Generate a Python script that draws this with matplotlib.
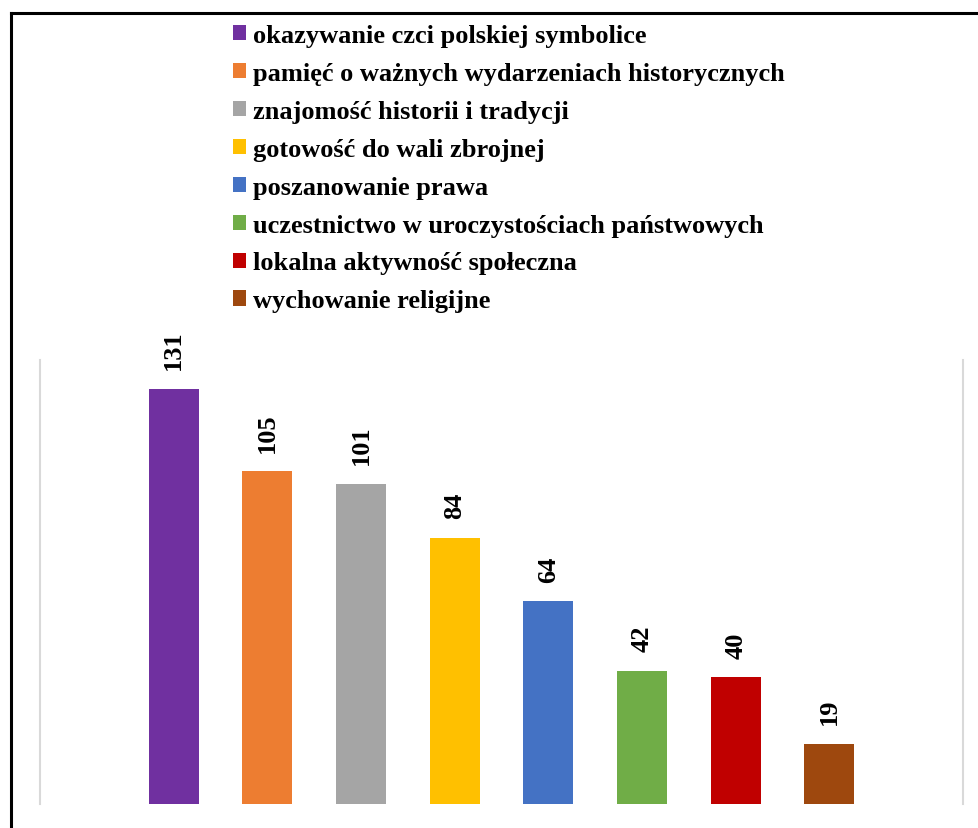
import matplotlib.pyplot as plt
from matplotlib.lines import Line2D

categories = [
    "okazywanie czci polskiej symbolice",
    "pamięć o ważnych wydarzeniach historycznych",
    "znajomość historii i tradycji",
    "gotowość do wali zbrojnej",
    "poszanowanie prawa",
    "uczestnictwo w uroczystościach państwowych",
    "lokalna aktywność społeczna",
    "wychowanie religijne",
]
values = [131, 105, 101, 84, 64, 42, 40, 19]
colors = ["#7030A0", "#ED7D31", "#A5A5A5", "#FFC000",
          "#4472C4", "#70AD47", "#C00000", "#9E480E"]

plt.rcParams['font.family'] = ['Liberation Serif', 'DejaVu Serif']

W, H = 979, 829
fig = plt.figure(figsize=(W / 100, H / 100), dpi=100)
ax = fig.add_axes([40 / W, (H - 805) / H, (963 - 40) / W, (805 - 361) / H])

x = range(len(values))
bars = ax.bar(x, values, width=0.534, color=colors, label=categories)
ax.set_xlim(-1.425, 8.425)
ax.set_ylim(0, 140)

for b, v in zip(bars, values):
    ax.annotate(str(v), (b.get_x() + b.get_width() / 2, v),
                xytext=(0, 14), textcoords="offset points",
                rotation=90, ha="center", va="bottom",
                fontsize=19, fontweight="bold")

ax.set_xticks([])
ax.set_yticks([])
ax.spines['top'].set_visible(False)
ax.spines['bottom'].set_visible(False)
for s in ('left', 'right'):
    ax.spines[s].set_color('#D9D9D9')
    ax.spines[s].set_linewidth(1.5)

leg = fig.legend(handles=bars, labels=categories, loc="upper left",
                 bbox_to_anchor=(233 / W, 1 - 25 / H), frameon=False,
                 prop={'size': 19, 'weight': 'bold'},
                 handlelength=0.5, handleheight=0.5, handletextpad=0.27,
                 labelspacing=0.565, borderpad=0, borderaxespad=0)

# frame edges visible in the crop (top and left)
fig.add_artist(Line2D([10.5 / W, 10.5 / W], [0, 1 - 13.5 / H], color='black', lw=2.2,
                      transform=fig.transFigure))
fig.add_artist(Line2D([10.5 / W, 1], [1 - 13.5 / H, 1 - 13.5 / H], color='black', lw=2.2,
                      transform=fig.transFigure))

fig.savefig("out.png", dpi=100)
